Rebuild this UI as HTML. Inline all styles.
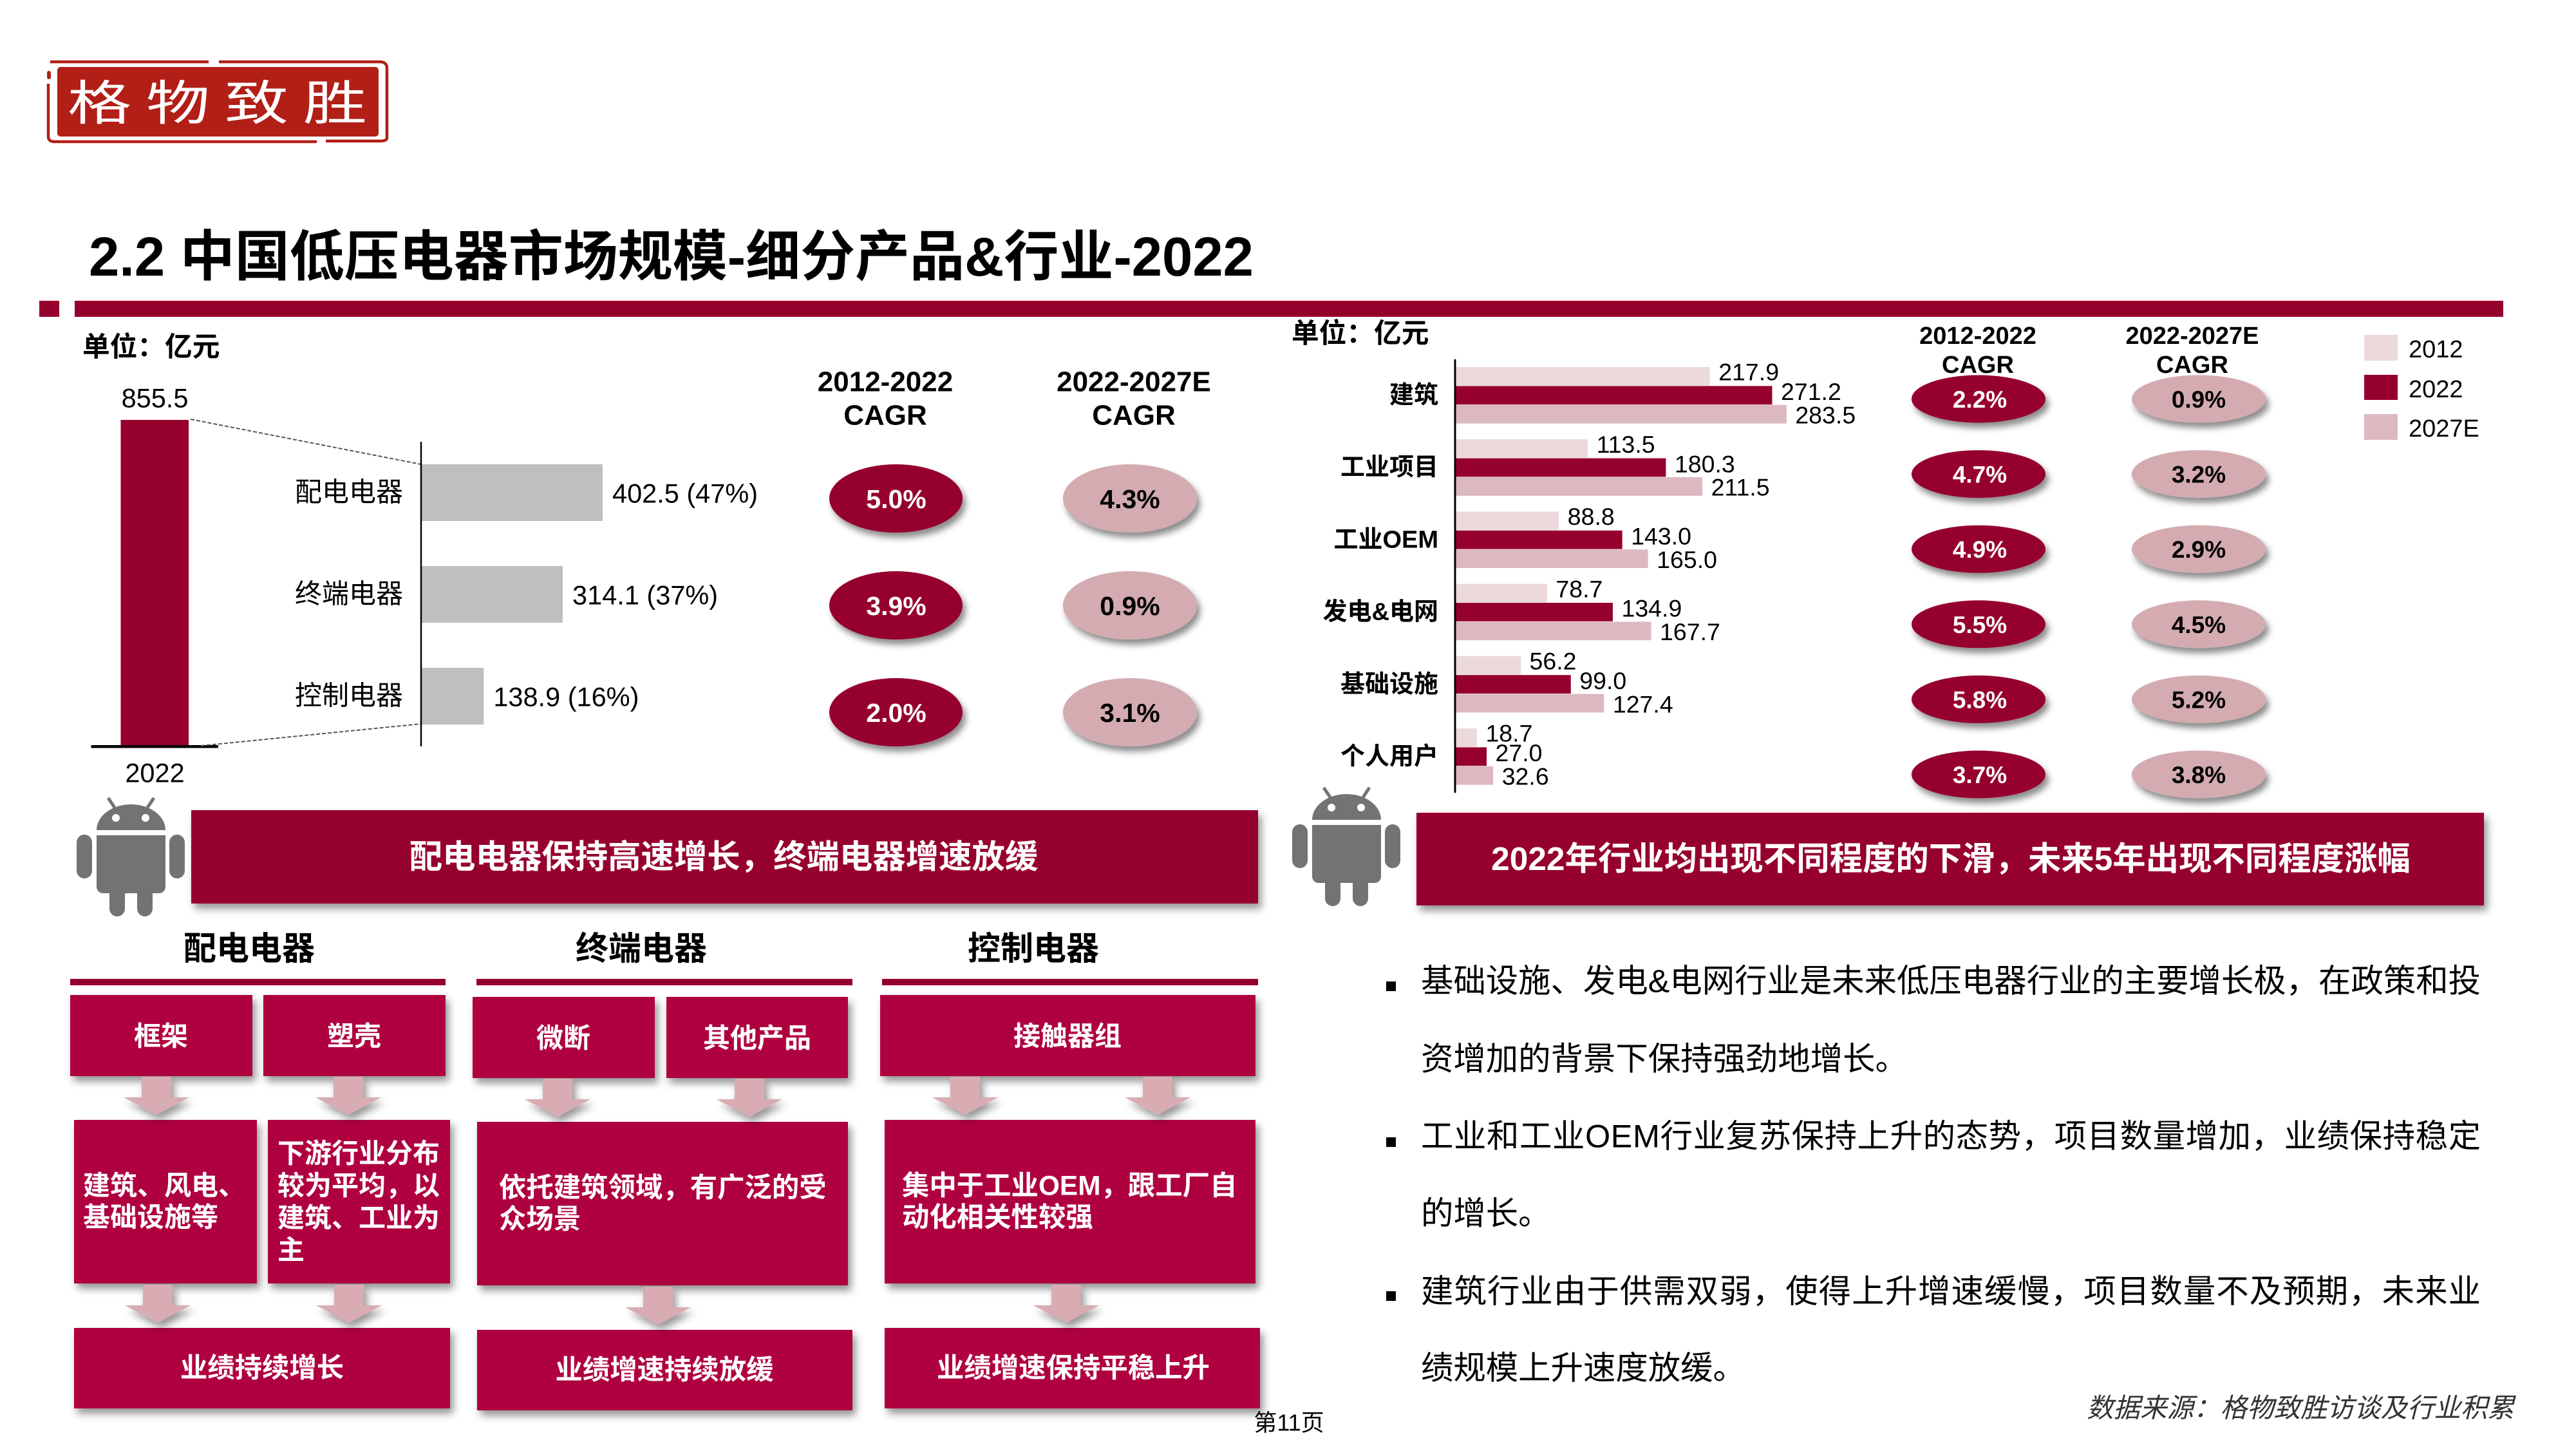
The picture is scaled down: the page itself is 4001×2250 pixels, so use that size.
<!DOCTYPE html>
<html lang="zh-CN">
<head>
<meta charset="utf-8">
<title>中国低压电器市场规模</title>
<style>
html,body{margin:0;padding:0;background:#fff;width:4001px;height:2250px;overflow:hidden}
svg{display:block}
text{font-family:"Liberation Sans","Noto Sans CJK SC",sans-serif;fill:#000}
.c{text-anchor:middle;dominant-baseline:central}
.l{dominant-baseline:central}
.b{font-weight:700}
.w{fill:#fff}
</style>
</head>
<body>
<svg id="page" xmlns="http://www.w3.org/2000/svg" width="4001" height="2250" viewBox="0 0 4001 2250">
<defs>
<filter id="sh" x="-10%" y="-20%" width="125%" height="150%"><feDropShadow dx="5" dy="8" stdDeviation="6" flood-color="#000" flood-opacity=".42"/></filter>
<filter id="she" x="-15%" y="-15%" width="135%" height="140%"><feDropShadow dx="5" dy="8" stdDeviation="5" flood-color="#000" flood-opacity=".45"/></filter>
<g id="robot">
<path d="M150 1289a53.500 40 0 0 1 107 0z" fill="#737373"/>
<path d="M178 1254l-10-15M229 1254l10-15" stroke="#737373" stroke-width="5" fill="none"/>
<circle cx="180" cy="1270" r="6" fill="#fff"/><circle cx="226" cy="1270" r="6" fill="#fff"/>
<path d="M150 1297h107v80a10 10 0 0 1-10 10h-10v24a12 12 0 0 1-24 0v-24h-19v24a12 12 0 0 1-24 0v-24h-10a10 10 0 0 1-10-10z" fill="#737373"/>
<rect x="119" y="1296" width="24" height="68" rx="12" fill="#737373"/>
<rect x="263" y="1296" width="24" height="68" rx="12" fill="#737373"/>
</g>
<path id="arrow" d="M-23 0h46v32h28l-51 27l-51-27h28z" fill="#d8acb2"/>
</defs>

<rect width="4001" height="2250" fill="#fff"/>

<g>
<rect x="89" y="104" width="499" height="108" rx="5" fill="#b21f17"/>
<path d="M78 96H324M340 96H590Q601 96 601 106V214Q601 219 590 219H506M492 220H85Q75 220 75 212V130" fill="none" stroke="#b21f17" stroke-width="4.500"/>
<rect x="73" y="110" width="6" height="13" rx="3" fill="#b21f17"/>
<text transform="translate(105,186) scale(1.34,1)" font-size="74" letter-spacing="17" class="w" style="font-family:'Noto Sans CJK SC',sans-serif">格物致胜</text>
</g>

<text x="138" y="428" font-size="85" class="b">2.2 中国低压电器市场规模-细分产品&amp;行业-2022</text>
<rect x="61" y="467" width="31" height="25" fill="#96002d"/>
<rect x="116" y="467" width="3772" height="25" fill="#96002d"/>

<text x="128" y="539" font-size="42.700" class="l b">单位&#xFF1A;亿元</text>
<text x="1375" y="593" font-size="44" class="c b">2012-2022</text>
<text x="1375" y="645" font-size="44" class="c b">CAGR</text>
<text x="1761" y="593" font-size="44" class="c b">2022-2027E</text>
<text x="1761" y="645" font-size="44" class="c b">CAGR</text>
<g id="left-chart"></g>

<text x="2006" y="518" font-size="42.700" class="l b">单位&#xFF1A;亿元</text>
<text x="3072" y="522" font-size="38" class="c b">2012-2022</text>
<text x="3072" y="567" font-size="38" class="c b">CAGR</text>
<text x="3405" y="522" font-size="38" class="c b">2022-2027E</text>
<text x="3405" y="567" font-size="38" class="c b">CAGR</text>
<g id="right-chart"></g>

<g>
<rect x="3672" y="520" width="52" height="40" fill="#ebd9dc"/>
<text x="3741" y="543" font-size="38" class="l">2012</text>
<rect x="3672" y="582" width="52" height="39" fill="#96002d"/>
<text x="3741" y="605" font-size="38" class="l">2022</text>
<rect x="3672" y="643" width="52" height="40" fill="#dbb9be"/>
<text x="3741" y="666" font-size="38" class="l">2027E</text>
</g>

<use href="#robot"/>
<use href="#robot" transform="translate(1888,-16)"/>

<rect x="297" y="1258" width="1657" height="145" fill="#96002d" filter="url(#sh)"/>
<text x="1124" y="1330" font-size="51.400" class="c b w">配电电器保持高速增长&#xFF0C;终端电器增速放缓</text>
<rect x="2200" y="1262" width="1658" height="144" fill="#96002d" filter="url(#sh)"/>
<text x="3030" y="1333" font-size="51.400" class="c b w">2022年行业均出现不同程度的下滑&#xFF0C;未来5年出现不同程度涨幅</text>

<g>
<text x="387" y="1473" font-size="51" class="c b">配电电器</text>
<text x="996" y="1473" font-size="51" class="c b">终端电器</text>
<text x="1605" y="1473" font-size="51" class="c b">控制电器</text>
<rect x="109" y="1520" width="583" height="10" fill="#96002d"/>
<rect x="740" y="1520" width="584" height="10" fill="#96002d"/>
<rect x="1370" y="1520" width="584" height="10" fill="#96002d"/>
</g>

<g fill="#af0040">
<rect x="109" y="1545" width="283" height="126" filter="url(#sh)"/>
<rect x="409" y="1545" width="283" height="126" filter="url(#sh)"/>
<rect x="734" y="1548" width="283" height="126" filter="url(#sh)"/>
<rect x="1035" y="1548" width="282" height="126" filter="url(#sh)"/>
<rect x="1367" y="1545" width="583" height="126" filter="url(#sh)"/>
<rect x="115" y="1739" width="284" height="254" filter="url(#sh)"/>
<rect x="416" y="1739" width="283" height="254" filter="url(#sh)"/>
<rect x="741" y="1742" width="576" height="254" filter="url(#sh)"/>
<rect x="1374" y="1739" width="576" height="254" filter="url(#sh)"/>
<rect x="115" y="2062" width="584" height="125" filter="url(#sh)"/>
<rect x="741" y="2065" width="583" height="125" filter="url(#sh)"/>
<rect x="1374" y="2062" width="583" height="125" filter="url(#sh)"/>
</g>

<g filter="url(#sh)">
<use href="#arrow" x="243" y="1672"/>
<use href="#arrow" x="541" y="1672"/>
<use href="#arrow" x="866" y="1675"/>
<use href="#arrow" x="1164" y="1675"/>
<use href="#arrow" x="1499" y="1672"/>
<use href="#arrow" x="1798" y="1672"/>
<use href="#arrow" x="245" y="1995"/>
<use href="#arrow" x="542" y="1995"/>
<use href="#arrow" x="1022" y="1998"/>
<use href="#arrow" x="1656" y="1995"/>
</g>

<g class="flow-text">
<text x="250" y="1609" font-size="42" class="c b w">框架</text>
<text x="550" y="1609" font-size="42" class="c b w">塑壳</text>
<text x="875" y="1612" font-size="42" class="c b w">微断</text>
<text x="1176" y="1612" font-size="42" class="c b w">其他产品</text>
<text x="1658" y="1609" font-size="42" class="c b w">接触器组</text>
<text x="129" y="1841" font-size="42" class="l b w">建筑、风电、</text>
<text x="129" y="1890" font-size="42" class="l b w">基础设施等</text>
<text x="431" y="1791" font-size="42" class="l b w">下游行业分布</text>
<text x="431" y="1841" font-size="42" class="l b w">较为平均&#xFF0C;以</text>
<text x="431" y="1891" font-size="42" class="l b w">建筑、工业为</text>
<text x="431" y="1941" font-size="42" class="l b w">主</text>
<text x="775" y="1844" font-size="42.400" class="l b w">依托建筑领域&#xFF0C;有广泛的受</text>
<text x="775" y="1893" font-size="42.400" class="l b w">众场景</text>
<text x="1401" y="1841" font-size="42.400" class="l b w">集中于工业OEM&#xFF0C;跟工厂自</text>
<text x="1401" y="1890" font-size="42.400" class="l b w">动化相关性较强</text>
<text x="407" y="2124" font-size="42.400" class="c b w">业绩持续增长</text>
<text x="1032" y="2127" font-size="42.400" class="c b w">业绩增速持续放缓</text>
<text x="1667" y="2124" font-size="42.400" class="c b w">业绩增速保持平稳上升</text>
</g>

<g>
<rect x="2153" y="1524" width="15" height="15" fill="#000"/>
<text x="2207" y="1523" font-size="50.400" textLength="1646" lengthAdjust="spacing" class="l">基础设施、发电&amp;电网行业是未来低压电器行业的主要增长极&#xFF0C;在政策和投</text>
<text x="2207" y="1644" font-size="50.400" class="l">资增加的背景下保持强劲地增长。</text>
<rect x="2153" y="1766" width="15" height="15" fill="#000"/>
<text x="2207" y="1764" font-size="50.400" textLength="1646" lengthAdjust="spacing" class="l">工业和工业OEM行业复苏保持上升的态势&#xFF0C;项目数量增加&#xFF0C;业绩保持稳定</text>
<text x="2207" y="1884" font-size="50.400" class="l">的增长。</text>
<rect x="2153" y="2005" width="15" height="15" fill="#000"/>
<text x="2207" y="2005" font-size="50.400" textLength="1646" lengthAdjust="spacing" class="l">建筑行业由于供需双弱&#xFF0C;使得上升增速缓慢&#xFF0C;项目数量不及预期&#xFF0C;未来业</text>
<text x="2207" y="2124" font-size="50.400" class="l">绩规模上升速度放缓。</text>
</g>

<text x="3241" y="2186" font-size="41.500" font-style="italic" class="l" style="fill:#333">数据来源&#xFF1A;格物致胜访谈及行业积累</text>
<text x="2002" y="2209" font-size="36" class="c">第11页</text>

<script>
// ---- left chart data ----
const totalYear = '2022';
const totalValue = 855.5;
const productCategories = ['配电电器', '终端电器', '控制电器'];
const productValues = [402.5, 314.1, 138.9];
const productShares = ['47%', '37%', '16%'];
const productCagrHistoric = ['5.0%', '3.9%', '2.0%'];
const productCagrForecast = ['4.3%', '0.9%', '3.1%'];

// ---- right chart data ----
const industryCategories = ['建筑', '工业项目', '工业OEM', '发电&电网', '基础设施', '个人用户'];
const values2012 = [217.9, 113.5, 88.8, 78.7, 56.2, 18.7];
const values2022 = [271.2, 180.3, 143.0, 134.9, 99.0, 27.0];
const values2027 = [283.5, 211.5, 165.0, 167.7, 127.4, 32.6];
const industryCagrHistoric = ['2.2%', '4.7%', '4.9%', '5.5%', '5.8%', '3.7%'];
const industryCagrForecast = ['0.9%', '3.2%', '2.9%', '4.5%', '5.2%', '3.8%'];

const NS = 'http://www.w3.org/2000/svg';
function make(parent, tag, props, txt) {
  const e = document.createElementNS(NS, tag);
  for (const k in props) e.setAttribute(k, props[k]);
  if (txt !== undefined) e.textContent = txt;
  parent.appendChild(e);
  return e;
}

// ---- left chart ----
(function () {
  const g = document.getElementById('left-chart');
  const base = 1159;
  const totalY = v => base - v * 507 / 855.5;
  const prodX = v => 654 + v * 0.7006;
  const prodRow = i => 721 + i * 158;
  const rowH = 88;
  const cagrY = i => 774 + i * 166;

  const total = make(g, 'rect', { x: 187.5, y: totalY(totalValue), width: 105.5, height: base - totalY(totalValue), fill: '#96002d' });
  
  
  const totalLabel = make(g, 'text', { x: 240.5, y: totalY(totalValue) - 34, 'font-size': 41.5, class: 'c' }, totalValue.toFixed(1));
  
  
  const base1 = make(g, 'rect', { x: 141.5, y: base - 2, width: 197.5, height: 4.5, fill: '#000' });
  
  
  const yearLabel = make(g, 'text', { x: 240.5, y: 1200, 'font-size': 41.5, class: 'c' }, totalYear);
  
  

  const last = productCategories.length - 1;
  const d1 = make(g, 'line', { x1: 296, y1: totalY(totalValue) - 1, x2: 654, y2: prodRow(0), stroke: '#555', 'stroke-width': 2, 'stroke-dasharray': '6 3' });
  
  
  const d2 = make(g, 'line', { x1: 312, y1: base - 1, x2: 654, y2: prodRow(last) + rowH - 1, stroke: '#555', 'stroke-width': 2, 'stroke-dasharray': '6 3' });
  
  

  productCategories.forEach((name, i) => {
    const bar = make(g, 'rect', { x: prodX(0), y: prodRow(i), width: prodX(productValues[i]) - prodX(0), height: rowH, fill: '#bfbfbf' });
    
    
    const cat = make(g, 'text', { x: 626, y: prodRow(i) + 43, 'font-size': 42, class: 'l', 'text-anchor': 'end' }, name);
    
    
    const val = make(g, 'text', { x: prodX(productValues[i]) + 15, y: prodRow(i) + 45, 'font-size': 41.5, class: 'l' }, productValues[i].toFixed(1) + ' (' + productShares[i] + ')');
    
    

    const e1 = make(g, 'ellipse', { cx: 1391.5, cy: cagrY(i), rx: 103.5, ry: 53, fill: '#96002d', filter: 'url(#she)' });
    
    
    const t1 = make(g, 'text', { x: 1392, y: cagrY(i) + 1, 'font-size': 41, class: 'c b w' }, productCagrHistoric[i]);
    
    
    const e2 = make(g, 'ellipse', { cx: 1755, cy: cagrY(i), rx: 104, ry: 53, fill: '#d3abb0', filter: 'url(#she)' });
    
    
    const t2 = make(g, 'text', { x: 1755, y: cagrY(i) + 1, 'font-size': 41, class: 'c b' }, productCagrForecast[i]);
    
    
  });

  const axis = make(g, 'line', { x1: 654, y1: 686, x2: 654, y2: 1159, stroke: '#000', 'stroke-width': 2.5 });
  
  
})();

// ---- right chart ----
(function () {
  const g = document.getElementById('right-chart');
  const indX = v => 2260 + v * 1.816;
  const groupY = i => 570 + i * 112.2;
  const barH = 29.4;
  const cagrY = i => 619.5 + i * 116.6;
  const seriesList = [values2012, values2022, values2027];
  const seriesFill = ['#ebd9dc', '#96002d', '#dbb9be'];
  const labelShift = [-7, -6, 1];

  industryCategories.forEach((name, i) => {
    seriesList.forEach((vals, s) => {
      const top = groupY(i) + s * barH;
      const bar = make(g, 'rect', { x: indX(0), y: top, width: indX(vals[i]) - indX(0), height: barH - 0.6, fill: seriesFill[s] });
      
      
      const lab = make(g, 'text', { x: indX(vals[i]) + 13.5, y: top + barH / 2 + labelShift[s], 'font-size': 37.500, class: 'l' }, vals[i].toFixed(1));
      
      
    });
    const cat = make(g, 'text', { x: 2234, y: groupY(i) + 44, 'font-size': 38, class: 'l b', 'text-anchor': 'end' }, name);
    
    

    const e1 = make(g, 'ellipse', { cx: 3073, cy: cagrY(i), rx: 104, ry: 37, fill: '#96002d', filter: 'url(#she)' });
    
    
    const t1 = make(g, 'text', { x: 3075, y: cagrY(i) + 1, 'font-size': 37, class: 'c b w' }, industryCagrHistoric[i]);
    
    
    const e2 = make(g, 'ellipse', { cx: 3415, cy: cagrY(i), rx: 104, ry: 37, fill: '#d3abb0', filter: 'url(#she)' });
    
    
    const t2 = make(g, 'text', { x: 3415, y: cagrY(i) + 1, 'font-size': 37, class: 'c b' }, industryCagrForecast[i]);
    
    
  });

  const axis = make(g, 'line', { x1: 2260, y1: 558, x2: 2260, y2: 1231, stroke: '#000', 'stroke-width': 3 });
  
  
})();
</script>
</svg>
</body>
</html>
